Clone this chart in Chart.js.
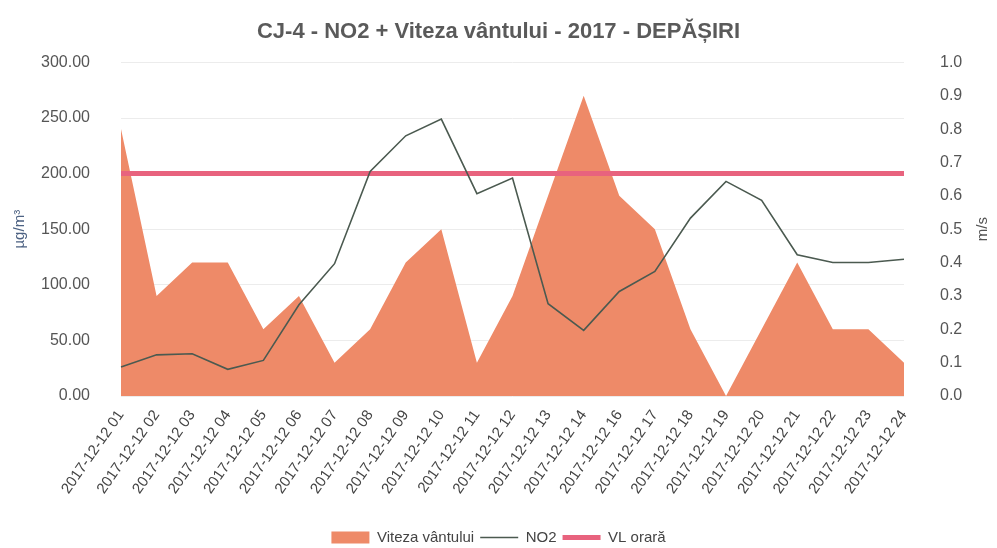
<!DOCTYPE html>
<html>
<head>
<meta charset="utf-8">
<script src="https://cdn.jsdelivr.net/npm/chart.js@4"></script>
<style>
  body { margin: 0; background: #fff; }
  #wrap { width: 997px; height: 548px; }
</style>
</head>
<body>
<div id="wrap"><canvas id="chart" width="997" height="548"></canvas></div>
<script>
// categories (hour 15 is missing in the source)
const hours = ["01", "02", "03", "04", "05", "06", "07", "08", "09", "10", "11", "12",
    "13", "14", "16", "17", "18", "19", "20", "21", "22", "23", "24"];
const labels = hours.map(h => "2017-12-12 " + h);

// wind speed, m/s (right axis)
const windSpeed = [0.8, 0.3, 0.4, 0.4, 0.2, 0.3, 0.1, 0.2, 0.4, 0.5, 0.1, 0.3,
    0.6, 0.9, 0.6, 0.5, 0.2, 0.0, 0.2, 0.4, 0.2, 0.2, 0.1];

// NO2, µg/m³ (left axis)
const no2 = [26, 37, 38, 24, 32, 82, 119, 202, 234, 249, 182, 196,
    83, 59, 94, 112, 160, 193, 176, 127, 120, 120, 123];

// hourly limit value
const vlOrara = labels.map(() => 200);

const leftTicks = [0, 50, 100, 150, 200, 250, 300];

const FONT = "'Liberation Sans', Arial, sans-serif";
const TEXT = "#555";

// axis titles drawn bottom-to-top on both sides, like the original
const axisTitles = {
    id: "axisTitles",
    afterDraw(chart) {
        const c = chart.ctx;
        const area = chart.chartArea;
        const midY = (area.top + area.bottom) / 2;
        c.save();
        c.font = "15px " + FONT;
        c.textAlign = "center";
        c.textBaseline = "middle";
        [["µg/m³", 20, "#4d6283"], ["m/s", 983, TEXT]].forEach(([t, x, col]) => {
            c.save();
            c.translate(x, midY);
            c.rotate(-Math.PI / 2);
            c.fillStyle = col;
            c.fillText(t, 0, 0);
            c.restore();
        });
        c.restore();
    }
};

const ctx = document.getElementById("chart").getContext("2d");

new Chart(ctx, {
    type: "line",
    data: {
        labels: labels,
        datasets: [
            {
                label: "Viteza vântului",
                data: windSpeed,
                yAxisID: "y1",
                fill: "origin",
                backgroundColor: "#ee8a68",
                borderColor: "#ee8a68",
                borderWidth: 0,
                pointRadius: 0,
                tension: 0,
                order: 3
            },
            {
                label: "NO2",
                data: no2,
                yAxisID: "y",
                fill: false,
                borderColor: "#4b5a50",
                backgroundColor: "#4b5a50",
                borderWidth: 1.6,
                pointRadius: 0,
                tension: 0,
                order: 1
            },
            {
                label: "VL orară",
                data: vlOrara,
                yAxisID: "y",
                fill: false,
                borderColor: "#e8637e",
                backgroundColor: "#e8637e",
                borderWidth: 5,
                pointRadius: 0,
                tension: 0,
                order: 2
            }
        ]
    },
    plugins: [axisTitles],
    options: {
        responsive: false,
        animation: false,
        layout: { padding: { left: 0, right: 0, top: 0, bottom: -7 } },
        plugins: {
            title: {
                display: true,
                text: "CJ-4 - NO2 + Viteza vântului - 2017 - DEPĂȘIRI",
                color: "#5a5a5a",
                font: { family: FONT, size: 22, weight: "bold" },
                padding: { top: 19, bottom: 17 }
            },
            legend: {
                position: "bottom",
                labels: {
                    color: "#444",
                    font: { family: FONT, size: 15 },
                    usePointStyle: true,
                    pointStyleWidth: 38,
                    boxHeight: 12,
                    padding: 6,
                    generateLabels(chart) {
                        return chart.data.datasets.map((ds, i) => ({
                            text: ds.label,
                            datasetIndex: i,
                            fillStyle: ds.backgroundColor,
                            strokeStyle: ds.borderColor,
                            lineWidth: i === 0 ? 0 : ds.borderWidth,
                            pointStyle: i === 0 ? "rect" : "line",
                            fontColor: "#444",
                            hidden: false
                        }));
                    }
                }
            },
            tooltip: { enabled: false }
        },
        scales: {
            x: {
                grid: { display: false },
                border: { display: false },
                ticks: {
                    color: "#444",
                    font: { family: FONT, size: 15 },
                    maxRotation: 55,
                    minRotation: 55,
                    autoSkip: false
                },
                afterFit(scale) { scale.height = 128; }
            },
            y: {
                position: "left",
                min: 0,
                max: 300,
                afterBuildTicks(scale) { scale.ticks = leftTicks.map(v => ({ value: v })); },
                grid: { color: "#ececec", drawTicks: false },
                border: { display: false },
                ticks: {
                    color: TEXT,
                    padding: 31,
                    font: { family: FONT, size: 16 },
                    callback: v => Number(v).toFixed(2)
                },
                afterFit(scale) { scale.width = 121; }
            },
            y1: {
                position: "right",
                min: 0,
                max: 1,
                ticks: {
                    stepSize: 0.1,
                    color: TEXT,
                    padding: 36,
                    font: { family: FONT, size: 16 },
                    callback: v => Number(v).toFixed(1)
                },
                grid: { display: false, drawTicks: false },
                border: { display: false },
                afterFit(scale) { scale.width = 93; }
            }
        }
    }
});
</script>
</body>
</html>
